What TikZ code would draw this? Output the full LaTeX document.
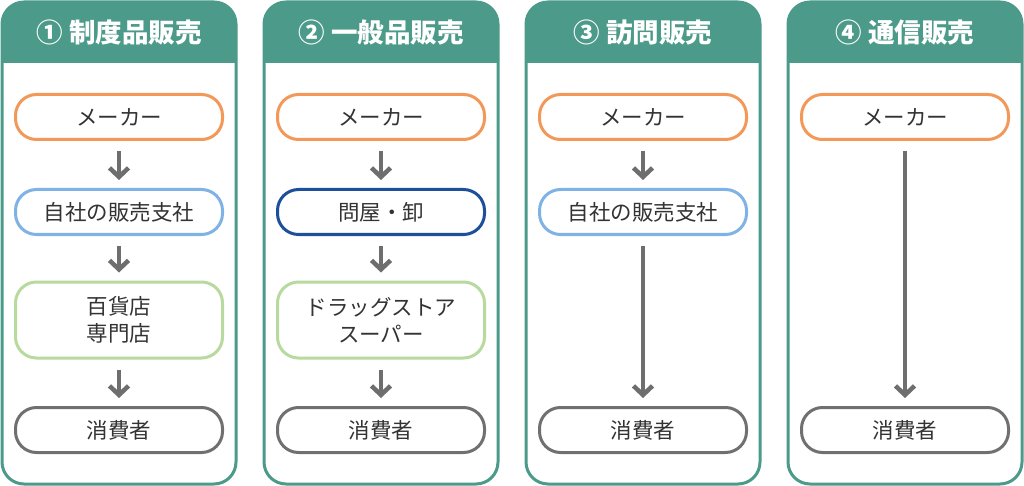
\documentclass[tikz,border=0pt]{standalone}
\usepackage{fontspec}
\setmainfont{Noto Sans CJK JP}
\usetikzlibrary{arrows.meta}
\definecolor{hdteal}{HTML}{4C9A89}
\definecolor{corange}{HTML}{F2995A}
\definecolor{clblue}{HTML}{7FB3E6}
\definecolor{cdblue}{HTML}{1D4F9B}
\definecolor{cgreen}{HTML}{B8DA9E}
\definecolor{cgray}{HTML}{707070}
\definecolor{arr}{HTML}{6E6E6E}
\definecolor{txt}{HTML}{333333}
\tikzset{
  panel/.style={draw=hdteal, line width=3pt, rounded corners=22pt, fill=white},
  box/.style={draw, line width=3pt, rounded corners=21pt, minimum width=207pt, minimum height=45pt,
    text=txt, font=\fontsize{21.5}{27}\selectfont, align=center, inner sep=0pt},
  tallbox/.style={box, minimum height=76pt},
  hdr/.style={text=white, font=\bfseries\fontsize{26.5}{30}\selectfont, inner sep=0pt},
  flow/.style={draw=arr, line width=4.5pt, -{Straight Barb[length=9pt,width=19pt]},
    shorten <=10pt, shorten >=8pt},
}
\begin{document}
\begin{tikzpicture}[x=1pt,y=-1pt]
\useasboundingbox (0,0) rectangle (1024,486);
% panels
\foreach \cx in {119,381,643,905}{
  \draw[panel] (\cx-117,2) rectangle (\cx+117,484);
  \fill[hdteal] (\cx-117,63) [rounded corners=22pt] -- (\cx-117,2) -- (\cx+117,2) [sharp corners] -- (\cx+117,63) -- cycle;
}
% headers
\node[hdr] (h1) at (119,32) {① 制度品販売};
\node[hdr] (h2) at (381,32) {② 一般品販売};
\node[hdr] (h3) at (643,32) {③ 訪問販売};
\node[hdr] (h4) at (905,32) {④ 通信販売};
% panel 1
\node[box, draw=corange] (m1) at (119,117) {メーカー};
\node[box, draw=clblue] (s1) at (119,212) {自社の販売支社};
\node[tallbox, draw=cgreen] (r1) at (119,320) {百貨店\\専門店};
\node[box, draw=cgray] (c1) at (119,430) {消費者};
\draw[flow] (m1) -- (s1);
\draw[flow] (s1) -- (r1);
\draw[flow] (r1) -- (c1);
% panel 2
\node[box, draw=corange] (m2) at (381,117) {メーカー};
\node[box, draw=cdblue] (w2) at (381,212) {問屋・卸};
\node[tallbox, draw=cgreen] (r2) at (381,320) {ドラッグストア\\スーパー};
\node[box, draw=cgray] (c2) at (381,430) {消費者};
\draw[flow] (m2) -- (w2);
\draw[flow] (w2) -- (r2);
\draw[flow] (r2) -- (c2);
% panel 3
\node[box, draw=corange] (m3) at (643,117) {メーカー};
\node[box, draw=clblue] (s3) at (643,212) {自社の販売支社};
\node[box, draw=cgray] (c3) at (643,430) {消費者};
\draw[flow] (m3) -- (s3);
\draw[flow] (s3) -- (c3);
% panel 4
\node[box, draw=corange] (m4) at (905,117) {メーカー};
\node[box, draw=cgray] (c4) at (905,430) {消費者};
\draw[flow] (m4) -- (c4);
\end{tikzpicture}
\end{document}
